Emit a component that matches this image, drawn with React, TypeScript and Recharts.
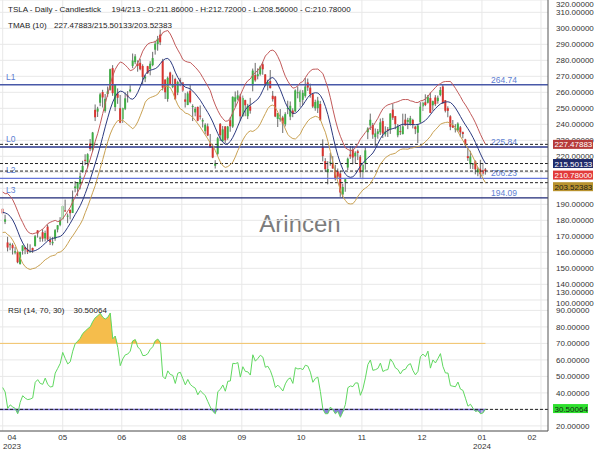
import {
  ComposedChart,
  Bar,
  Line,
  Area,
  XAxis,
  YAxis,
  CartesianGrid,
  ReferenceLine,
} from "recharts";

// closes before the first drawn bar (2023-03-01 .. 2023-04-17), only feed the RSI / TMA
const warmupCloses = [
  202.77, 190.9, 197.79, 193.81, 187.71, 182.0, 172.92, 173.44, 174.48, 183.26,
  180.45, 184.13, 180.13, 183.25, 197.58, 191.15, 192.22, 190.41, 191.81, 189.19,
  193.88, 195.28, 207.46, 194.77, 192.58, 185.52, 185.06, 184.51, 186.79, 180.54,
  185.9, 185.0, 187.04,
];
// highs / lows of the last 20 warm-up days (band ATR)
const warmupHighs = [
  186.44, 198.0, 200.66, 196.48, 191.58, 197.39, 192.35, 195.29, 197.33, 207.79,
  202.69, 198.74, 190.68, 189.48, 185.1, 189.19, 191.59, 186.5, 186.57, 189.69,
];
const warmupLows = [
  176.35, 188.04, 190.95, 188.15, 186.43, 189.94, 185.43, 189.44, 193.12, 197.2,
  192.2, 190.32, 183.76, 180.85, 176.11, 185.65, 179.75, 180.33, 182.01, 182.69,
];

// TSLA daily bars, 2023-04-18 .. 2024-01-24 (194 bars)
const opens = [
  187.15, 179.1, 166.17, 164.8, 164.65, 159.82, 160.29, 152.64, 160.9,
  163.17, 161.88, 160.01, 162.71, 163.97, 173.72, 168.95, 172.55, 168.7, 176.07, 167.66, 165.65, 168.41, 174.22, 177.17, 180.7, 186.2, 182.56, 186.54, 184.62, 200.1, 199.78,
  202.59, 210.15, 217.8, 216.14, 228.0, 224.22, 249.07, 247.94, 253.51, 260.17, 248.4, 258.92, 261.5, 275.13, 250.77, 259.29, 250.07, 243.24, 249.7, 258.03, 260.6,
  276.49, 278.82, 278.09, 278.43, 276.47, 268.65, 276.33, 274.59, 277.01, 286.63, 290.15, 296.04, 279.56, 268.0, 255.85, 272.38, 263.25, 268.31, 259.86, 267.48,
  266.26, 255.57, 252.04, 260.97, 251.45, 247.45, 250.87, 245.4, 241.77, 235.7, 238.73, 228.02, 226.06, 214.12, 221.55, 240.25, 229.34, 238.66, 231.31, 242.58, 238.58, 254.2, 255.98,
  257.26, 245.0, 255.14, 245.07, 251.22, 264.27, 270.76, 270.07, 271.32, 277.55, 271.16, 264.35, 267.04, 257.85, 257.4, 243.38, 242.98, 244.26, 240.02, 250.0,
  244.81, 248.61, 248.14, 260.0, 253.98, 255.31, 257.75, 266.2, 262.92, 258.9, 250.05, 250.1, 252.7, 225.95, 217.01, 210.0, 216.5, 215.88, 211.32, 210.6, 209.28, 196.12,
  204.04, 212.97, 221.15, 223.98, 219.98, 223.15, 219.75, 210.03, 215.6, 235.03, 239.29, 239.49, 232.0, 234.04, 235.04, 242.04, 233.75, 236.89, 236.68, 249.21, 245.14,
  233.14, 235.75, 233.87, 242.92, 241.55, 240.27, 242.74, 238.55, 234.75, 241.22, 251.21, 253.78, 253.48, 256.41, 251.9, 256.76, 254.49, 258.35, 263.66, 255.1,
  250.08, 244.98, 239.25, 236.86, 236.14, 238.11, 235.1, 230.57, 220.08, 215.1, 214.86, 216.88, 209.99, 212.26, 211.3, 211.86,
];
const highs = [
  187.69, 183.5, 169.7, 166.0, 165.65, 163.47, 160.67, 160.48, 164.33,
  163.28, 165.49, 165.0, 162.95, 170.79, 173.8, 169.82, 174.43, 173.57, 177.38, 169.76, 169.52, 174.5, 177.06, 181.95, 189.32, 192.96, 184.22, 186.78, 198.6, 204.48, 203.95,
  209.8, 217.25, 221.29, 221.91, 230.83, 235.23, 252.42, 250.97, 259.68, 261.57, 258.95, 263.6, 274.75, 276.99, 265.0, 262.45, 258.37, 250.39, 259.88, 260.74, 264.45,
  284.25, 283.85, 279.97, 280.78, 277.52, 270.9, 276.52, 279.45, 285.3, 292.23, 295.26, 299.29, 280.93, 268.0, 269.85, 272.9, 271.0, 269.13, 267.25, 269.08,
  266.47, 259.52, 260.49, 264.77, 252.5, 250.92, 251.1, 251.8, 243.79, 240.66, 240.5, 233.97, 226.74, 217.58, 232.13, 240.82, 238.98, 238.92, 239.0, 244.38, 257.48, 260.51, 261.18,
  259.08, 258.0, 255.39, 252.81, 256.52, 274.85, 278.39, 274.98, 276.71, 278.98, 271.44, 267.85, 273.93, 260.86, 257.79, 247.1, 249.55, 245.33, 247.55, 254.77,
  254.28, 250.02, 261.86, 263.6, 261.65, 261.36, 268.94, 268.6, 265.41, 259.6, 255.4, 257.18, 254.63, 230.61, 218.86, 216.98, 222.05, 220.1, 214.8, 212.41, 210.88, 202.8,
  205.99, 219.2, 226.37, 226.32, 223.12, 224.15, 220.8, 215.38, 225.4, 238.14, 246.7, 240.88, 237.39, 237.1, 243.62, 244.01, 238.75, 238.33, 247.0, 252.75, 245.22,
  240.19, 239.37, 246.66, 246.57, 244.08, 245.27, 243.44, 238.99, 240.3, 253.88, 254.13, 258.74, 258.34, 259.84, 254.8, 258.22, 257.97, 263.34, 265.13, 255.19,
  251.25, 245.68, 242.7, 240.12, 241.25, 238.96, 235.5, 230.93, 225.34, 223.49, 215.67, 217.45, 213.19, 217.8, 215.65, 212.72,
];
const lows = [
  183.58, 177.65, 160.56, 161.32, 158.61, 158.75, 153.14, 152.37, 158.56,
  158.83, 158.93, 159.91, 159.65, 163.51, 169.19, 166.56, 166.68, 166.79, 167.23, 164.55, 164.35, 167.19, 172.45, 176.31, 180.11, 185.26, 178.22, 180.58, 184.53, 197.53, 195.12,
  199.37, 209.75, 214.52, 212.53, 223.2, 223.01, 242.02, 244.59, 251.34, 250.5, 247.29, 257.21, 261.07, 257.78, 248.25, 252.8, 240.7, 240.85, 248.89, 253.61, 259.89,
  275.11, 277.6, 272.88, 273.77, 265.1, 266.37, 271.46, 270.6, 276.31, 283.57, 286.01, 289.52, 261.2, 255.8, 254.12, 265.0, 262.6, 255.3, 258.23, 263.78,
  260.25, 250.49, 252.0, 253.11, 242.02, 245.01, 241.9, 243.0, 238.02, 233.75, 232.61, 225.38, 218.83, 212.36, 220.58, 229.55, 229.29, 228.18, 230.35, 235.35, 237.77, 250.59, 255.05,
  242.01, 244.86, 245.06, 243.27, 246.67, 260.61, 266.6, 268.1, 270.42, 271.0, 263.76, 261.2, 262.46, 254.21, 244.48, 238.31, 241.66, 234.58, 238.65, 246.35,
  242.62, 244.45, 247.6, 256.25, 250.65, 252.05, 256.67, 260.9, 256.63, 250.22, 248.48, 247.08, 242.08, 216.78, 210.42, 202.51, 214.11, 212.2, 204.88, 205.77, 194.67, 194.07,
  197.85, 211.45, 218.4, 215.0, 215.72, 217.64, 206.68, 205.69, 211.61, 230.72, 236.45, 230.96, 226.54, 231.02, 233.34, 231.4, 232.33, 232.1, 234.01, 242.76, 236.91,
  231.9, 233.29, 233.7, 239.17, 236.98, 239.27, 237.45, 233.87, 228.2, 240.79, 248.3, 251.36, 253.01, 247.0, 248.55, 251.37, 252.91, 257.52, 252.71, 247.43,
  244.41, 236.32, 237.73, 234.9, 235.3, 232.04, 231.29, 225.37, 217.15, 212.18, 212.01, 208.74, 207.56, 206.27, 207.75, 208.56,
];
const closes = [
  184.31, 180.59, 162.99, 165.08, 162.55, 160.67, 153.75, 160.19, 164.31,
  161.83, 160.31, 160.61, 161.2, 170.06, 171.79, 169.15, 168.54, 172.08, 167.98, 166.35, 166.52, 173.86, 176.89, 180.14, 188.87, 185.77, 182.9, 184.47, 193.17, 201.16, 203.93,
  207.52, 213.97, 217.61, 221.31, 224.57, 234.86, 244.4, 249.83, 258.71, 256.79, 255.9, 260.54, 274.45, 259.46, 264.61, 256.6, 241.05, 250.21, 256.24, 257.5, 261.77,
  279.82, 282.48, 276.54, 274.43, 269.61, 269.79, 271.99, 277.9, 281.38, 290.38, 293.34, 291.26, 262.9, 260.02, 269.06, 265.28, 264.35, 255.71, 266.44, 267.43,
  261.07, 254.11, 259.32, 253.86, 251.45, 249.7, 242.19, 245.34, 242.65, 239.76, 232.96, 225.6, 219.22, 215.49, 231.28, 233.19, 236.86, 230.04, 238.59, 238.82, 257.18, 256.9, 258.08,
  245.01, 256.49, 251.92, 251.49, 248.5, 273.58, 267.48, 271.3, 276.04, 274.39, 265.28, 266.5, 262.59, 255.7, 244.88, 246.99, 244.12, 240.5, 246.38, 250.22,
  251.6, 246.53, 261.16, 260.05, 260.53, 259.67, 263.62, 262.99, 258.87, 251.12, 253.92, 254.85, 242.68, 220.11, 211.99, 212.08, 216.52, 212.42, 205.76, 207.3, 197.36, 200.84,
  205.66, 218.51, 219.96, 219.27, 222.18, 222.11, 209.98, 214.65, 223.71, 237.41, 242.84, 233.59, 234.3, 235.6, 241.2, 234.21, 235.45, 236.08, 246.72, 244.14, 240.08,
  238.83, 235.58, 238.72, 239.37, 242.64, 243.84, 239.74, 237.01, 239.29, 251.05, 253.5, 252.08, 257.22, 247.14, 254.5, 252.54, 256.61, 261.44, 253.18, 248.48,
  248.42, 238.45, 237.93, 237.49, 240.45, 234.96, 233.94, 227.22, 218.89, 219.91, 215.55, 211.88, 212.19, 208.8, 209.14, 210.78,
];

// x axis: gridline positions (bar index) and their labels
const monthTicks = [0, 24, 47.6, 71.6, 95.6, 119.3, 143.6, 167.6, 191.6, 215.2];
const monthLabels = ["04", "05", "06", "08", "09", "10", "11", "12", "01", "02"];
const yearLabels = ["2023", "", "", "", "", "", "", "", "2024", ""];

const priceTicks = [130, 140, 150, 160, 170, 180, 190, 200, 210, 220, 230, 240, 250, 260, 270, 280, 290, 300, 310, 320];
const rsiTicks = [20, 30, 40, 50, 60, 70, 80, 90, 100];
// axis labels that sit fully under a value badge in the original
const hiddenPriceLabels = [200, 210];
const hiddenRsiLabels = [30];

const levels = [
  { name: "L1", value: 264.74, stroke: "#4858a8" },
  { name: "L0", value: 225.84, stroke: "#27348a" },
  { name: "L2", value: 206.23, stroke: "#6676da" },
  { name: "L3", value: 194.09, stroke: "#1e2977" },
];

const markers = [
  { value: 227.47883, bg: "#b63a3a", fg: "#fff", dy: 0 },
  { value: 215.50133, bg: "#1f2b6b", fg: "#fff", dy: 0 },
  { value: 210.78, bg: "#e23a3a", fg: "#fff", dy: 4 },
  { value: 203.52383, bg: "#b8922e", fg: "#1a1a1a", dy: 4 },
];
const lastRsi = 30.50064;

const xDomain = [-1.08, 218];
const priceDomain = [130.2, 317.7];
const rsiDomain = [16.9, 96.3];

// indicators: TMA(10) with ATR(20) bands, RSI(14)
const off = warmupCloses.length;
const allC = [...warmupCloses, ...closes];
const pad = new Array(off - warmupHighs.length).fill(NaN);
const allH = [...pad, ...warmupHighs, ...highs];
const allL = [...pad, ...warmupLows, ...lows];
const tmaW = [1, 2, 3, 4, 5, 5, 4, 3, 2, 1];
const tmaAt = (j: number) => tmaW.reduce((s, w, m) => s + w * allC[j - 9 + m], 0) / 30;
const trAt = (j: number) =>
  Math.max(allH[j] - allL[j], Math.abs(allH[j] - allC[j - 1]), Math.abs(allL[j] - allC[j - 1]));
const atrAt = (j: number) => {
  let s = 0;
  for (let m = j - 19; m <= j; m++) s += trAt(m);
  return s / 20;
};
const rsiAll: number[] = [];
let gain = 0;
let loss = 0;
for (let j = 1; j < allC.length; j++) {
  const ch = allC[j] - allC[j - 1];
  const up = Math.max(ch, 0);
  const dn = Math.max(-ch, 0);
  if (j <= 14) {
    gain += up / 14;
    loss += dn / 14;
  } else {
    gain = (gain * 13 + up) / 14;
    loss = (loss * 13 + dn) / 14;
  }
  rsiAll[j] = 100 - 100 / (1 + gain / loss);
}

const rows = closes.map((c, i) => {
  const j = i + off;
  const mid = tmaAt(j);
  const half = 1.54 * atrAt(j);
  const rsi = rsiAll[j];
  return {
    i,
    open: opens[i],
    high: highs[i],
    low: lows[i],
    close: c,
    mid,
    upper: mid + half,
    lower: mid - half,
    rsi,
    over: [70, Math.max(rsi, 70)],
    under: [Math.min(rsi, 30), 30],
  };
});
const lastIndex = rows.length - 1;

const Candle = (props: any) => {
  const { x, y, width, height, payload } = props;
  const top = Math.min(y, y + height);
  const bottom = Math.max(y, y + height);
  const span = payload.high - payload.low || 1;
  const yOf = (v: number) => top + ((payload.high - v) / span) * (bottom - top);
  const cx = x + width / 2;
  const bTop = yOf(Math.max(payload.open, payload.close));
  const bBot = yOf(Math.min(payload.open, payload.close));
  const up = payload.close >= payload.open;
  return (
    <g>
      <line x1={cx} x2={cx} y1={top} y2={bottom} stroke="#6a6a6a" strokeWidth={1} />
      <rect x={cx - 1} y={bTop} width={2} height={Math.max(bBot - bTop, 1)} fill={up ? "#3fae45" : "#d9342f"} />
    </g>
  );
};

const ValueTick = (props: any) => {
  const { x, y, payload, lo, hi, skip } = props;
  if (skip && skip.includes(payload.value)) return <g />;
  const yy = Math.min(Math.max(y, lo), hi);
  return (
    <text x={x} y={yy + 3} fontSize={8} fill="#333" textAnchor="start">
      {Number(payload.value).toFixed(5)}
    </text>
  );
};

const MonthTick = (props: any) => {
  const { x, y, payload } = props;
  const k = monthTicks.indexOf(payload.value);
  const cx = Math.min(Math.max(x, 12), 532);
  return (
    <g>
      <text x={cx} y={y + 1} fontSize={8} fill="#333" textAnchor="middle">
        {monthLabels[k]}
      </text>
      {yearLabels[k] ? (
        <text x={cx} y={y + 9.5} fontSize={8} fill="#333" textAnchor="middle">
          {yearLabels[k]}
        </text>
      ) : null}
    </g>
  );
};

const levelLabel = (name: string, value: number) => (props: any) => {
  const vb = props.viewBox;
  return (
    <g>
      <text x={vb.x + 6} y={vb.y - 5} fontSize={8.5} fill="#5d80d2">
        {name}
      </text>
      <text x={vb.x + vb.width - 57} y={vb.y - 2} fontSize={8.5} fill="#5d80d2">
        {value.toFixed(2)}
      </text>
    </g>
  );
};

const badge = (value: number, bg: string, fg: string, dy: number, w: number) => (props: any) => {
  const vb = props.viewBox;
  const cy = vb.y + dy;
  return (
    <g>
      <rect x={vb.x + vb.width + 5} y={cy - 4.5} width={w} height={9} fill={bg} />
      <text x={vb.x + vb.width + 6.5} y={cy + 3} fontSize={8} fill={fg}>
        {value.toFixed(5)}
      </text>
    </g>
  );
};

// transparent chart on top, same geometry, so the value badges cover the axis labels
const BadgeLayer = (props: { height: number; domain: number[]; xHeight: number; items: any[] }) => (
  <ComposedChart width={600} height={props.height} data={rows} margin={{ top: 0, right: 0, bottom: 0, left: 0 }}>
    <XAxis dataKey="i" type="number" domain={xDomain} allowDataOverflow height={props.xHeight} tick={false} tickLine={false} axisLine={false} />
    <YAxis orientation="right" width={52} domain={props.domain} allowDataOverflow tick={false} tickLine={false} axisLine={false} />
    {props.items.map((m) => (
      <ReferenceLine key={"b" + m.value} y={m.value} stroke="none" label={badge(m.value, m.bg, m.fg, m.dy, m.w)} />
    ))}
  </ComposedChart>
);

const textStyle = { position: "absolute" as const, fontSize: 8, lineHeight: "10px", color: "#222", whiteSpace: "pre" as const };

const last = rows[lastIndex];

export default function App() {
  return (
    <div
      style={{
        position: "absolute",
        left: 0,
        top: 0,
        width: 600,
        height: 450,
        background: "#fff",
        overflow: "hidden",
        fontFamily: "'Liberation Sans', Arial, sans-serif",
      }}
    >
      <div style={{ position: "absolute", left: 0, width: 600, top: 212, textAlign: "center", fontSize: 24, lineHeight: "24px", color: "#7b7b7b" }}>
        Arincen
      </div>

      <div style={{ position: "absolute", left: 0, top: 0 }}>
        <ComposedChart width={600} height={300} data={rows} margin={{ top: 0, right: 0, bottom: 0, left: 0 }}>
          <CartesianGrid vertical={false} stroke="#e8e8e8" />
          <XAxis
            dataKey="i"
            type="number"
            domain={xDomain}
            allowDataOverflow
            ticks={monthTicks}
            height={0}
            tick={false}
            tickLine={false}
            axisLine={{ stroke: "#555" }}
          />
          <YAxis
            orientation="right"
            width={52}
            domain={priceDomain}
            allowDataOverflow
            ticks={priceTicks}
            interval={0}
            tickLine={false}
            axisLine={{ stroke: "#555" }}
            tick={(p: any) => <ValueTick {...p} lo={4} hi={292} skip={hiddenPriceLabels} />}
          />
          {monthTicks.map((t) => (
            <ReferenceLine key={"v" + t} x={t} stroke="#e8e8e8" />
          ))}
          {levels.map((l) => (
            <ReferenceLine key={l.name} y={l.value} stroke={l.stroke} strokeWidth={1.3} label={levelLabel(l.name, l.value)} />
          ))}
          {markers.map((m) => (
            <ReferenceLine key={"d" + m.value} y={m.value} stroke="#222" strokeDasharray="3 2" />
          ))}
          <Line dataKey="upper" stroke="#c25a5a" strokeWidth={1} dot={false} activeDot={false} isAnimationActive={false} />
          <Line dataKey="mid" stroke="#2c3a80" strokeWidth={1} dot={false} activeDot={false} isAnimationActive={false} />
          <Line dataKey="lower" stroke="#c9a152" strokeWidth={1} dot={false} activeDot={false} isAnimationActive={false} />
          <Bar dataKey={(d: any) => [d.low, d.high]} barSize={3} shape={Candle} isAnimationActive={false} />
        </ComposedChart>
      </div>
      <div style={{ position: "absolute", left: 0, top: 0 }}>
        <BadgeLayer height={300} domain={priceDomain} xHeight={0} items={markers.map((m) => ({ ...m, w: 40 }))} />
      </div>

      <div style={{ position: "absolute", left: 0, top: 300 }}>
        <ComposedChart width={600} height={150} data={rows} margin={{ top: 0, right: 0, bottom: 0, left: 0 }}>
          <CartesianGrid vertical={false} stroke="#e8e8e8" />
          <XAxis
            dataKey="i"
            type="number"
            domain={xDomain}
            allowDataOverflow
            ticks={monthTicks}
            interval={0}
            height={19}
            tickLine={false}
            axisLine={{ stroke: "#555" }}
            tick={(p: any) => <MonthTick {...p} />}
          />
          <YAxis
            orientation="right"
            width={52}
            domain={rsiDomain}
            allowDataOverflow
            ticks={rsiTicks}
            interval={0}
            tickLine={false}
            axisLine={{ stroke: "#555" }}
            tick={(p: any) => <ValueTick {...p} lo={2.5} hi={200} skip={hiddenRsiLabels} />}
          />
          {monthTicks.map((t) => (
            <ReferenceLine key={"v" + t} x={t} stroke="#e8e8e8" />
          ))}
          <Area dataKey="over" stroke="none" fill="#f5bd4c" fillOpacity={1} activeDot={false} isAnimationActive={false} />
          <Area dataKey="under" stroke="none" fill="#8a83d6" fillOpacity={1} activeDot={false} isAnimationActive={false} />
          <ReferenceLine segment={[{ x: xDomain[0], y: 70 }, { x: lastIndex, y: 70 }]} stroke="#f3c46a" />
          <ReferenceLine segment={[{ x: xDomain[0], y: 30 }, { x: lastIndex, y: 30 }]} stroke="#7a6fd6" strokeWidth={1.5} />
          <ReferenceLine y={30} stroke="#222" strokeDasharray="3 2" />
          <Line dataKey="rsi" stroke="#5fd85f" strokeWidth={1} dot={false} activeDot={false} isAnimationActive={false} />
        </ComposedChart>
      </div>
      <div style={{ position: "absolute", left: 0, top: 300 }}>
        <BadgeLayer
          height={150}
          domain={rsiDomain}
          xHeight={19}
          items={[{ value: lastRsi, bg: "#2ee02e", fg: "#1a1a1a", dy: 0, w: 35 }]}
        />
      </div>

      <div style={{ ...textStyle, left: 8, top: 5 }}>TSLA - Daily - Candlestick</div>
      <div style={{ ...textStyle, left: 111.5, top: 5 }}>
        {`${lastIndex + 1}/213 - O:${last.open.toFixed(5)} - H:${last.high.toFixed(5)} - L:${last.low.toFixed(5)} - C:${last.close.toFixed(5)}`}
      </div>
      <div style={{ ...textStyle, left: 8, top: 21 }}>TMAB (10)</div>
      <div style={{ ...textStyle, left: 54, top: 21 }}>
        {markers.filter((m) => m.value !== 210.78).map((m) => m.value.toFixed(5)).join("/")}
      </div>
      <div style={{ ...textStyle, left: 8, top: 306 }}>RSI (14, 70, 30)</div>
      <div style={{ ...textStyle, left: 73.5, top: 306 }}>{lastRsi.toFixed(5)}</div>
    </div>
  );
}
